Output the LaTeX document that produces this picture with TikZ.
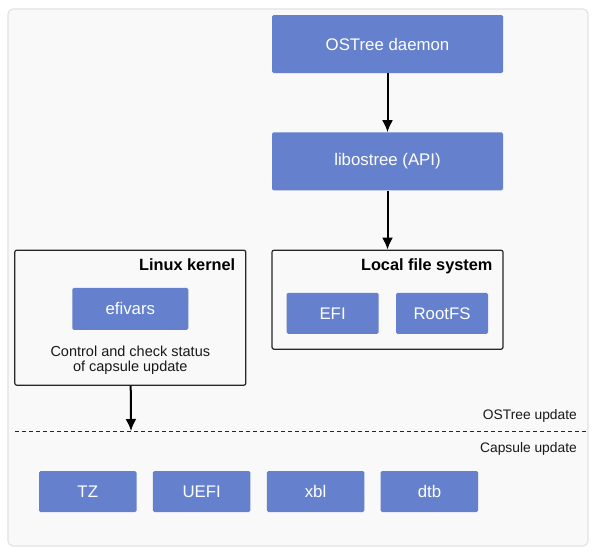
\documentclass[tikz,border=0pt]{standalone}
\usepackage{fontspec}
\setmainfont{Liberation Sans}
\usepackage{xcolor}
\usetikzlibrary{arrows.meta, positioning}
\definecolor{boxblue}{HTML}{6581CD}
\definecolor{panelgray}{HTML}{F9F9F9}
\definecolor{panelline}{HTML}{E2E2E8}
\tikzset{
    block/.style={rectangle, fill=boxblue, text=white, rounded corners=1.5pt, text centered, inner sep=0pt, font=\fontsize{16.8}{19}\selectfont},
    frame/.style={rectangle, draw=black!85, line width=1.2pt, rounded corners=2pt, minimum width=231pt, inner sep=0pt},
    title/.style={anchor=base east, inner sep=0pt, font=\bfseries\fontsize{16.3}{18}\selectfont},
    note/.style={align=center, inner sep=0pt, text=black!90, font=\fontsize{14.5}{15.5}\selectfont},
    arrow/.style={-{Latex[length=12pt, width=11pt]}, line width=2pt},
}

\begin{document}
\begin{tikzpicture}[x=1pt, y=-1pt, node distance=16pt and 16pt]

    % Background
    \path[use as bounding box] (0,0) rectangle (596,552);
    \draw[panelline, line width=1.2pt, fill=panelgray, rounded corners=5pt] (8,9) rectangle (588,546);

    % Nodes
    \node[block, minimum width=231pt, minimum height=58pt] (daemon) at (387.5,44) {OSTree daemon};
    \node[block, minimum width=231pt, minimum height=58pt, below=59pt of daemon] (libostree) {libostree (API)};
    \node[frame, minimum height=99pt, below=59pt of libostree] (localfs) {};
    \node[title, below left=20.5pt and 11pt of localfs.north east, anchor=base east] (localfstitle) {Local file system};
    \node[block, minimum width=92pt, minimum height=41pt, below right=43pt and 15pt of localfs.north west] (efi) {EFI};
    \node[block, minimum width=92pt, minimum height=41pt, right=17pt of efi] (rootfs) {RootFS};

    \node[frame, minimum height=135pt, left=25pt of localfs.north west, anchor=north east] (kernel) {};
    \node[title, below left=20.5pt and 11pt of kernel.north east, anchor=base east] (kerneltitle) {Linux kernel};
    \node[block, minimum width=116pt, minimum height=42pt, below=38pt of kernel.north] (efivars) {efivars};
    \node[note, below=15.5pt of efivars] (status) {Control and check status\\of capsule update};

    \coordinate (split) at (131,431);
    \draw[dashed, dash pattern=on 4pt off 3pt, line width=1pt, black!85] (15,431) -- (588,431);
    \node[note, font=\fontsize{13.8}{15}\selectfont, anchor=base east] (ostreelabel) at (577,419) {OSTree update};
    \node[note, font=\fontsize{13.8}{15}\selectfont, anchor=base east] (capsulelabel) at (577,452) {Capsule update};

    \node[block, minimum width=97.5pt, minimum height=41pt] (tz) at (87.75,491.5) {TZ};
    \node[block, minimum width=97.5pt, minimum height=41pt, right=of tz] (uefi) {UEFI};
    \node[block, minimum width=97.5pt, minimum height=41pt, right=of uefi] (xbl) {xbl};
    \node[block, minimum width=97.5pt, minimum height=41pt, right=of xbl] (dtb) {dtb};

    % Arrows
    \draw[arrow] (daemon) -- (libostree);
    \draw[arrow] (libostree) -- (localfs);
    \draw[arrow] (kernel) -- (split);

\end{tikzpicture}
\end{document}
